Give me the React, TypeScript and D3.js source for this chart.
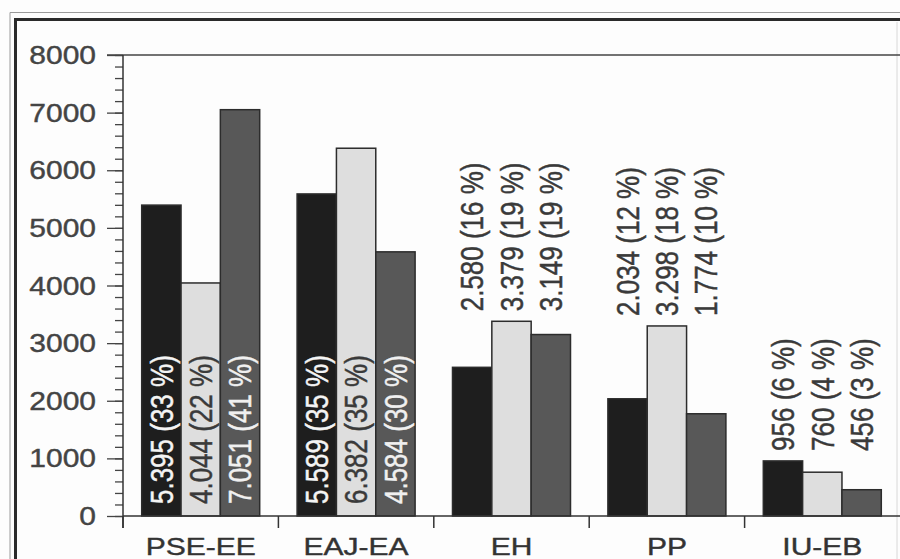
import * as d3 from "d3";
import * as React from "react";

// vote counts per party, three elections (black, light grey, dark grey bars)
const categories = ["PSE-EE", "EAJ-EA", "EH", "PP", "IU-EB"];
const series = ["s1", "s2", "s3"];
const values1 = [5395, 5589, 2580, 2034, 956];
const values2 = [4044, 6382, 3379, 3298, 760];
const values3 = [7051, 4584, 3149, 1774, 456];
const percent1 = [33, 35, 16, 12, 6];
const percent2 = [22, 35, 19, 18, 4];
const percent3 = [41, 30, 19, 10, 3];
const labelInside = [true, true, false, false, false];
const yTicks = [0, 1000, 2000, 3000, 4000, 5000, 6000, 7000, 8000];

const fills = ["#1e1e1e", "#dedede", "#585858"];
const labelColors = ["#f4f4f4", "#3a3a3a", "#f0f0f0"];

const W = 900;
const H = 559;
const stretch = 1.2; // the type is set wide

export default function App() {
    const ref = React.useRef<SVGSVGElement>(null);

    React.useEffect(() => {
        const svg = d3.select(ref.current!);
        svg.selectAll("*").remove();

        const x = d3.scaleBand().domain(categories).range([123, 900]);
        const bw = x.bandwidth();
        const pad = (bw - 118) / 2;
        const x1 = d3.scaleBand().domain(series).range([pad, bw - pad]);
        const y = d3.scaleLinear().domain([0, 8000]).range([516, 55]);

        const fmt = d3.formatLocale({ decimal: ",", thousands: ".", grouping: [3], currency: ["", ""] }).format(",d");

        const rows = categories.map((c, i) => ({
            cat: c,
            inside: labelInside[i],
            bars: [
                { key: "s1", v: values1[i], p: percent1[i] },
                { key: "s2", v: values2[i], p: percent2[i] },
                { key: "s3", v: values3[i], p: percent3[i] },
            ],
        }));

        // frame of the scanned figure
        svg.append("rect").attr("x", 0).attr("y", 0).attr("width", W).attr("height", H).attr("fill", "#fdfdfd");
        svg.append("path").attr("d", `M10,${H} V12.5 H${W}`).attr("fill", "none").attr("stroke", "#9a9a9a").attr("stroke-width", 1);
        svg.append("path").attr("d", `M15.5,${H} V19.5 H${W}`).attr("fill", "none").attr("stroke", "#2a2a2a").attr("stroke-width", 3);
        svg.append("line").attr("x1", 897).attr("x2", 897).attr("y1", 22).attr("y2", H).attr("stroke", "#d8d8d8");

        // plot top line
        svg.append("line").attr("x1", 107).attr("x2", W).attr("y1", y(8000)).attr("y2", y(8000))
            .attr("stroke", "#444").attr("stroke-width", 1.3);

        // y axis: minor ticks then major ticks
        svg.append("g").attr("transform", "translate(123,0)")
            .call(d3.axisLeft(y).tickValues(d3.range(0, 8001, 200)).tickSize(8).tickFormat(() => ""))
            .call(g => g.selectAll("line").attr("stroke", "#444").attr("stroke-width", 1.3))
            .call(g => g.select(".domain").remove());
        svg.append("g").attr("transform", "translate(123,0)")
            .call(d3.axisLeft(y).tickValues(yTicks).tickSize(16).tickFormat(() => ""))
            .call(g => g.selectAll("line").attr("stroke", "#444").attr("stroke-width", 1.3))
            .call(g => g.select(".domain").remove());
        svg.append("line").attr("x1", 123).attr("x2", 123).attr("y1", y(8000)).attr("y2", 528)
            .attr("stroke", "#333").attr("stroke-width", 1.5);

        svg.append("g").selectAll("text").data(yTicks).join("text")
            .attr("transform", d => `translate(96,${y(d)}) scale(${stretch},1)`)
            .attr("dy", "0.36em")
            .attr("text-anchor", "end")
            .attr("font-family", "Liberation Sans, Arial, sans-serif")
            .attr("font-size", 25)
            .attr("fill", "#444")
            .attr("stroke", "#444").attr("stroke-width", 0.4)
            .text(d => d);

        // bars
        const grp = svg.append("g").selectAll("g").data(rows).join("g")
            .attr("transform", r => `translate(${x(r.cat)},0)`);

        grp.selectAll("rect").data(r => r.bars).join("rect")
            .attr("x", b => x1(b.key)!)
            .attr("width", x1.bandwidth())
            .attr("y", b => y(b.v))
            .attr("height", b => y(0) - y(b.v))
            .attr("fill", (b, i) => fills[i])
            .attr("stroke", "#2c2c2c")
            .attr("stroke-width", 1.5);

        grp.selectAll("text").data(r => r.bars.map(b => ({ ...b, inside: r.inside, top: d3.max(r.bars, d => d.v)! })))
            .join("text")
            .attr("transform", b => {
                const cx = x1(b.key)! + x1.bandwidth() / 2;
                const base = b.inside ? y(0) - 12 : y(b.top) - 10;
                return `translate(${cx},${base}) scale(${stretch},1) rotate(-90)`;
            })
            .attr("dy", "0.36em")
            .attr("font-family", "Liberation Sans, Arial, sans-serif")
            .attr("font-size", 26)
            .attr("fill", (b, i) => (b.inside ? labelColors[i] : "#3a3a3a"))
            .attr("stroke", (b, i) => (b.inside ? labelColors[i] : "#3a3a3a"))
            .attr("stroke-width", 0.4)
            .text(b => `${fmt(b.v)} (${b.p} %)`);

        // x axis
        svg.append("line").attr("x1", 123).attr("x2", W).attr("y1", y(0)).attr("y2", y(0))
            .attr("stroke", "#333").attr("stroke-width", 1.5);
        svg.append("g").selectAll("line").data(categories).join("line")
            .attr("x1", c => x(c)!).attr("x2", c => x(c)!)
            .attr("y1", y(0)).attr("y2", 528)
            .attr("stroke", "#333").attr("stroke-width", 1.5);

        svg.append("g").selectAll("text").data(categories).join("text")
            .attr("transform", c => `translate(${x(c)! + bw / 2},555) scale(1.25,1)`)
            .attr("text-anchor", "middle")
            .attr("font-family", "Liberation Sans, Arial, sans-serif")
            .attr("font-size", 24)
            .attr("fill", "#333")
            .attr("stroke", "#333").attr("stroke-width", 0.4)
            .text(c => c);
    }, []);

    return (
        <svg ref={ref} width={W} height={H}
            style={{ position: "absolute", left: 0, top: 0, display: "block" }} />
    );
}
